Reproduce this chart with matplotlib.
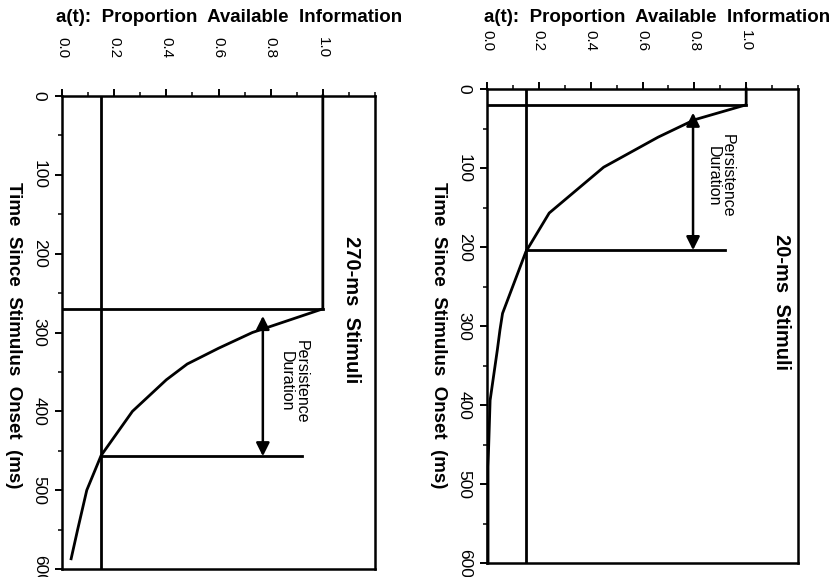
import matplotlib
matplotlib.use("Agg")
import matplotlib.pyplot as plt
from matplotlib.ticker import MultipleLocator

plt.rcParams['font.family'] = ['Liberation Sans', 'DejaVu Sans']

# ---------------- data ----------------
title_text = "a(t):  Proportion  Available  Information"
time_label = "Time  Since  Stimulus  Onset  (ms)"
a_ticks = [0.0, 0.2, 0.4, 0.6, 0.8, 1.0]
a_tick_labels = ["0.0", "0.2", "0.4", "0.6", "0.8", "1.0"]
t_ticks = [0, 100, 200, 300, 400, 500, 600]
t_tick_labels = ["0", "100", "200", "300", "400", "500", "600"]

# 270-ms stimuli panel
left_t = [0, 270, 300, 320, 340, 360, 400, 456, 500, 550, 587]
left_a = [1.0, 1.0, 0.73, 0.60, 0.48, 0.40, 0.27, 0.15, 0.095, 0.06, 0.035]
left_offset = 270
left_threshold = 0.15
left_persist_end = 457
left_arrow_a = 0.77
left_arrow_top = 279
left_name = "270-ms  Stimuli"

# 20-ms stimuli panel
right_t = [0, 20, 39, 61, 99, 157, 206, 284, 305, 330, 394, 478, 600]
right_a = [1.0, 1.0, 0.80, 0.66, 0.45, 0.24, 0.15, 0.06, 0.05, 0.04, 0.012, 0.004, 0.004]
right_offset = 20
right_threshold = 0.15
right_persist_end = 204
right_arrow_a = 0.795
right_arrow_top = 30
right_name = "20-ms  Stimuli"

W, H = 836, 577
fig = plt.figure(figsize=(W / 100, H / 100), dpi=100)


def make_panel(rect_px, t, a, offset, thr, pend, arr_a, arr_top, name,
               pers_pos, name_pos, title_x, xlabel_x):
    x0, y0, x1, y1 = rect_px
    ax = fig.add_axes([x0 / W, 1 - y1 / H, (x1 - x0) / W, (y1 - y0) / H])
    ax.set_xlim(0, 1.2)
    ax.set_ylim(600, 0)
    for s in ax.spines.values():
        s.set_linewidth(1.8)
    ax.xaxis.tick_top()
    ax.set_xticks(a_ticks)
    ax.set_xticklabels(a_tick_labels, rotation=-90, fontsize=11,
                       va='bottom', ha='center')
    ax.xaxis.set_minor_locator(MultipleLocator(0.1))
    ax.set_yticks(t_ticks)
    ax.set_yticklabels(t_tick_labels, rotation=-90, fontsize=12.5,
                       va='center', ha='right')
    ax.yaxis.set_minor_locator(MultipleLocator(50))
    ax.tick_params(axis='x', which='major', direction='out', length=5,
                   width=1.4, pad=22)
    ax.tick_params(axis='x', which='minor', direction='out', length=3,
                   width=1.1)
    ax.tick_params(axis='y', which='major', direction='out', length=5,
                   width=1.4, pad=6)
    ax.tick_params(axis='y', which='minor', direction='out', length=3,
                   width=1.1)

    lw = 2.0
    ax.plot(a, t, color='black', lw=lw, clip_on=False)
    ax.axhline(offset, xmin=0, xmax=1.0 / 1.2, color='black', lw=lw)
    ax.axvline(thr, color='black', lw=lw)
    ax.plot([thr, 0.92], [pend, pend], color='black', lw=lw)
    ax.annotate('', xy=(arr_a, arr_top), xytext=(arr_a, pend),
                arrowprops=dict(arrowstyle='<|-|>', color='black', lw=1.8,
                                mutation_scale=20, shrinkA=0, shrinkB=0))
    ax.text(pers_pos[0], pers_pos[1], "Persistence\nDuration", rotation=-90,
            ha='center', va='center', fontsize=11.5, linespacing=1.0)
    ax.text(name_pos[0], name_pos[1], name, rotation=-90, ha='center',
            va='center', fontsize=14.5, fontweight='bold')
    fig.text(title_x / W, 1 - 18 / H, title_text, ha='center', va='center',
             fontsize=13.5, fontweight='bold')
    fig.text(xlabel_x / W, 1 - 335 / H, time_label, rotation=-90,
             ha='center', va='center', fontsize=13.5, fontweight='bold')
    return ax


make_panel((62, 96, 375, 569), left_t, left_a, left_offset, left_threshold,
           left_persist_end, left_arrow_a, left_arrow_top, left_name,
           (0.89, 362), (1.11, 271), 229, 13)
make_panel((487, 89, 798, 563), right_t, right_a, right_offset,
           right_threshold, right_persist_end, right_arrow_a, right_arrow_top,
           right_name, (0.90, 110), (1.135, 270), 657, 438)

fig.savefig("out.png", dpi=100)
